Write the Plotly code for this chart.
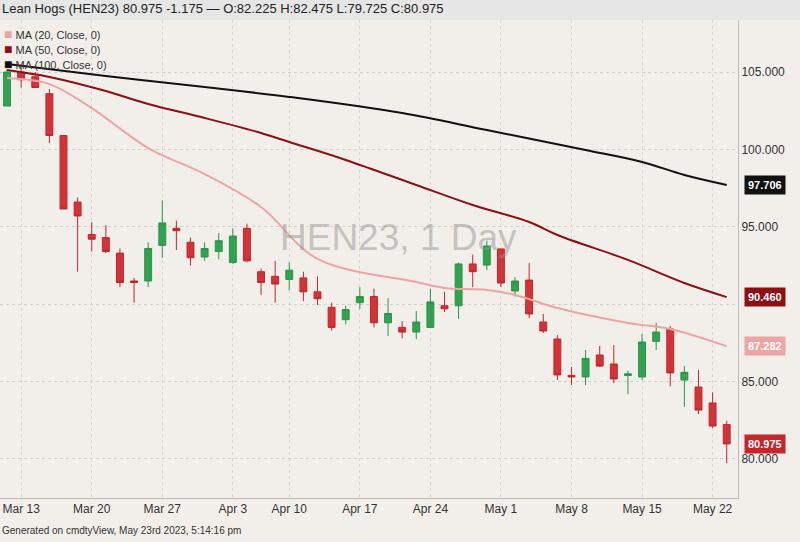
import plotly.graph_objects as go

dates = ['2023-03-10', '2023-03-13', '2023-03-14', '2023-03-15', '2023-03-16', '2023-03-17',
         '2023-03-20', '2023-03-21', '2023-03-22', '2023-03-23', '2023-03-24',
         '2023-03-27', '2023-03-28', '2023-03-29', '2023-03-30', '2023-03-31',
         '2023-04-03', '2023-04-04', '2023-04-05', '2023-04-06',
         '2023-04-10', '2023-04-11', '2023-04-12', '2023-04-13', '2023-04-14',
         '2023-04-17', '2023-04-18', '2023-04-19', '2023-04-20', '2023-04-21',
         '2023-04-24', '2023-04-25', '2023-04-26', '2023-04-27', '2023-04-28',
         '2023-05-01', '2023-05-02', '2023-05-03', '2023-05-04', '2023-05-05',
         '2023-05-08', '2023-05-09', '2023-05-10', '2023-05-11', '2023-05-12',
         '2023-05-15', '2023-05-16', '2023-05-17', '2023-05-18', '2023-05-19',
         '2023-05-22', '2023-05-23']

opens = [102.8, 105.0, 104.7, 103.6, 100.9, 96.6, 94.5, 94.3, 93.3, 91.5, 91.5,
         93.8, 94.9, 94.0, 93.05, 93.4, 92.7, 94.9, 92.1, 91.8, 91.6, 91.7, 90.8,
         89.8, 89.0, 90.1, 90.5, 88.8, 88.5, 88.2, 88.5, 89.9, 89.9, 92.6, 92.53,
         93.57, 90.85, 91.56, 88.85, 87.75, 85.4, 85.3, 86.72, 86.14, 85.4, 85.3,
         87.6, 88.4, 85.1, 84.65, 83.62, 82.225]
highs = [105.2, 105.3, 105.0, 103.9, 100.9, 96.9, 95.3, 95.1, 93.6, 91.7, 94.0,
         96.7, 95.4, 94.3, 94.0, 94.6, 94.9, 95.2, 92.3, 92.8, 92.7, 92.1, 91.8,
         90.1, 89.9, 91.1, 91.0, 90.4, 88.9, 89.55, 91.0, 90.8, 92.7, 93.2, 94.1,
         93.6, 91.75, 92.66, 89.37, 88.0, 85.94, 87.04, 87.3, 87.36, 85.7, 88.07,
         88.8, 88.6, 86.0, 85.75, 84.3, 82.475]
lows = [102.8, 104.0, 104.0, 100.4, 96.15, 92.1, 93.4, 93.3, 91.1, 90.1, 91.1,
        93.0, 93.5, 92.5, 92.8, 92.9, 92.6, 92.7, 90.6, 90.1, 90.9, 90.2, 89.95,
        88.3, 88.7, 89.7, 88.5, 87.95, 87.8, 87.75, 88.5, 89.5, 89.05, 91.1, 92.2,
        91.1, 90.5, 89.1, 88.14, 85.1, 84.78, 84.78, 85.94, 84.9, 84.2, 85.1,
        87.04, 84.7, 83.36, 82.9, 82.0, 79.725]
closes = [105.0, 104.5, 104.0, 100.9, 96.15, 95.7, 94.2, 93.4, 91.4, 91.4, 93.6,
          95.25, 94.75, 93.0, 93.6, 94.1, 94.4, 92.8, 91.4, 91.3, 92.2, 90.8, 90.35,
          88.5, 89.65, 90.5, 88.8, 89.4, 88.2, 88.85, 90.15, 89.7, 92.6, 92.1, 93.76,
          91.37, 91.5, 89.37, 88.27, 85.43, 85.3, 86.5, 86.0, 85.17, 85.5, 87.56,
          88.2, 85.56, 85.6, 83.16, 82.13, 80.975]

# moving averages at selected sessions
ma20_dates = ['2023-03-10', '2023-03-15', '2023-03-20', '2023-03-24', '2023-03-30', '2023-04-05',
              '2023-04-12', '2023-04-21', '2023-04-25', '2023-04-28', '2023-05-02', '2023-05-05',
              '2023-05-12', '2023-05-17', '2023-05-23']
ma20 = [104.61, 104.22, 102.67, 100.09, 98.41, 96.28, 92.93, 91.43, 91.05, 90.92, 90.6, 89.75,
        88.79, 88.4, 87.282]
ma50_dates = ['2023-03-10', '2023-03-15', '2023-03-21', '2023-03-24', '2023-03-30', '2023-04-05',
              '2023-04-10', '2023-04-14', '2023-04-21', '2023-04-27', '2023-05-03', '2023-05-05',
              '2023-05-12', '2023-05-18', '2023-05-23']
ma50 = [105.13, 104.68, 103.77, 102.93, 102.03, 101.06, 100.48, 99.32, 97.7, 96.41, 95.31, 94.47,
        92.86, 91.37, 90.46]
ma100_dates = ['2023-03-10', '2023-03-21', '2023-03-30', '2023-04-10', '2023-04-20', '2023-04-28',
               '2023-05-09', '2023-05-15', '2023-05-18', '2023-05-23']
ma100 = [105.52, 104.74, 104.03, 103.39, 102.35, 101.25, 99.96, 99.19, 98.35, 97.706]

tick_dates = ['2023-03-13', '2023-03-20', '2023-03-27', '2023-04-03', '2023-04-10', '2023-04-17',
              '2023-04-24', '2023-05-01', '2023-05-08', '2023-05-15', '2023-05-22']
tick_text = ['Mar 13', 'Mar 20', 'Mar 27', 'Apr 3', 'Apr 10', 'Apr 17', 'Apr 24', 'May 1',
             'May 8', 'May 15', 'May 22']
y_ticks = [80, 85, 90, 95, 100, 105]
y_text = ['80.000', '85.000', '', '95.000', '100.000', '105.000']  # 90 hidden behind badge

ma_names = ['MA (20, Close, 0)', 'MA (50, Close, 0)', 'MA (100, Close, 0)']
ma_colors = ['#eda5a3', '#8c0f14', '#111111']

bg = '#f2efea'
fig = go.Figure()

fig.add_trace(go.Candlestick(
    x=dates, open=opens, high=highs, low=lows, close=closes,
    increasing=dict(line=dict(color='#2a9548', width=1), fillcolor='#33a052'),
    decreasing=dict(line=dict(color='#c4262b', width=1), fillcolor='#d13438'),
    whiskerwidth=0, showlegend=False
))
for xs, ys, nm, col in [(ma20_dates, ma20, ma_names[0], ma_colors[0]),
                        (ma50_dates, ma50, ma_names[1], ma_colors[1]),
                        (ma100_dates, ma100, ma_names[2], ma_colors[2])]:
    fig.add_trace(go.Scatter(x=xs, y=ys, mode='lines', name=nm, showlegend=False,
                             line=dict(color=col, width=2, shape='spline')))

# legend rows as text
for i, (nm, col) in enumerate(zip(ma_names, ma_colors)):
    py = 34 + i * 15
    fig.add_annotation(x=0.003, xref='paper', y=1 - (py - 20) / 478, yref='paper',
                       xanchor='left', yanchor='middle', showarrow=False,
                       text=f"<span style='color:{col};font-size:14px'>■</span> {nm}",
                       font=dict(size=11, color='#333', family='Arial'))

# last value badges on the right axis
badges = [(ma100[-1], '#111111'), (ma50[-1], '#8c0f14'), (ma20[-1], '#eda5a3'), (closes[-1], '#c4262b')]
for val, col in badges:
    fig.add_annotation(x=1, xref='paper', y=val, yref='y', xanchor='left', xshift=6,
                       text=f'<b>{val:.3f}</b>', showarrow=False, bgcolor=col,
                       font=dict(color='white', size=11, family='Arial'), borderpad=3)

fig.add_annotation(x=0.54, y=94.3, xref='paper', yref='y', text='HEN23, 1 Day', showarrow=False,
                   font=dict(size=37, color='rgba(150,150,150,0.5)', family='Arial'))
fig.add_annotation(x=0, y=1, xref='paper', yref='paper', yanchor='bottom', xanchor='left', yshift=2,
                   text='Lean Hogs (HEN23) 80.975 -1.175 — O:82.225 H:82.475 L:79.725 C:80.975',
                   showarrow=False, font=dict(size=13, color='#222', family='Arial'))
fig.add_annotation(x=0, y=0, xref='paper', yref='paper', yanchor='top', xanchor='left', yshift=-25,
                   text='Generated on cmdtyView, May 23rd 2023, 5:14:16 pm', showarrow=False,
                   font=dict(size=10, color='#333', family='Arial'))

fig.add_shape(type='rect', xref='paper', yref='paper', x0=-0.01, x1=1.1, y0=1, y1=1.05,
              fillcolor='#e6e6e6', line=dict(width=0), layer='below')

fig.update_layout(
    width=800, height=542,
    margin=dict(l=0, r=62, t=20, b=44),
    paper_bgcolor=bg, plot_bgcolor=bg,
    font=dict(family='Arial', color='#333', size=12),
    showlegend=False,
    xaxis=dict(type='category', range=[-0.5, 51.8], tickvals=tick_dates, ticktext=tick_text,
               showgrid=True, gridcolor='#d6d6d6', griddash='dot', rangeslider_visible=False,
               showline=True, linecolor='#bbbbbb', ticks='', tickfont=dict(size=12), automargin=False),
    yaxis=dict(side='right', range=[77.48, 108.36], tickvals=y_ticks, ticktext=y_text,
               showgrid=True, gridcolor='#cfcfcf', griddash='dot', zeroline=False,
               showline=True, linecolor='#bbbbbb', ticks='', tickfont=dict(size=12), automargin=False),
)

fig.write_html("out.html", config={'displayModeBar': False},
               post_script="document.body.style.margin='0';")
